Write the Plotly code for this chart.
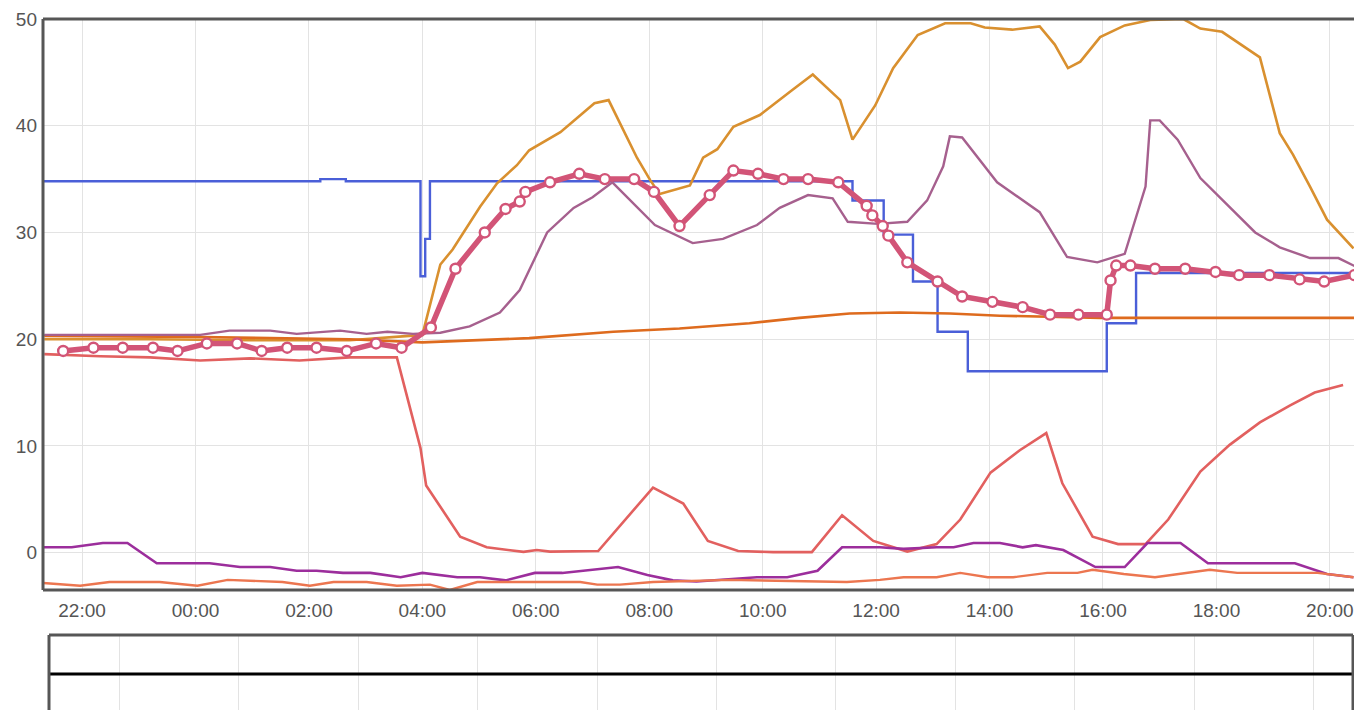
import plotly.graph_objects as go

# ---------------- data (clock times HH:MM, values) ----------------
blue_t = ["21:19", "02:12", "02:39", "03:58", "04:03", "04:08", "11:35", "12:08",
          "12:39", "13:05", "13:37", "16:04", "16:35", "20:26"]
blue_v = [34.8, 35.0, 34.8, 25.9, 29.4, 34.8, 33.0, 29.8, 25.4, 20.7, 17.0, 21.5, 26.2, 26.3]

gold_t = ["21:20", "23:12", "00:58", "02:43", "04:00", "04:19", "04:32", "05:01", "05:19",
          "05:40", "05:53", "06:26", "07:02", "07:17", "07:47", "08:01", "08:11", "08:43",
          "08:57", "09:12", "09:29", "09:57", "10:32", "10:53", "11:22", "11:35", "11:59",
          "12:18", "12:44", "13:13", "13:40", "13:55", "14:24", "14:53", "15:09", "15:23",
          "15:36", "15:57", "16:23", "16:50", "17:25", "17:43", "18:06", "18:30", "18:46",
          "19:07", "19:21", "19:39", "19:57", "20:25"]
gold_v = [20.0, 20.0, 19.9, 19.9, 20.4, 27.0, 28.4, 32.4, 34.6,
          36.3, 37.7, 39.4, 42.1, 42.4, 37.0, 34.9, 33.6, 34.4,
          37.0, 37.8, 39.9, 41.0, 43.4, 44.8, 42.4, 38.7, 41.9,
          45.4, 48.5, 49.6, 49.6, 49.2, 49.0, 49.3, 47.6, 45.4,
          46.0, 48.3, 49.4, 49.9, 50.0, 49.1, 48.8, 47.4, 46.4,
          39.3, 37.3, 34.3, 31.2, 28.5]

dorange_t = ["21:20", "00:05", "02:43", "04:00", "05:53", "07:22", "08:32", "09:46",
             "10:39", "11:32", "12:25", "13:18", "14:11", "15:04", "15:57", "20:34"]
dorange_v = [20.3, 20.2, 20.0, 19.7, 20.1, 20.7, 21.0, 21.5,
             22.0, 22.4, 22.5, 22.4, 22.2, 22.1, 22.0, 22.0]

mpurple_t = ["21:20", "22:19", "00:05", "00:36", "01:19", "01:47", "02:33", "03:01", "03:23",
             "03:50", "04:19", "04:50", "05:22", "05:43", "06:12", "06:40", "07:00", "07:21",
             "08:06", "08:46", "09:18", "09:54", "10:18", "10:48", "11:14", "11:30", "12:02",
             "12:33", "12:54", "13:11", "13:18", "13:31", "14:08", "14:53", "15:22", "15:54",
             "16:23", "16:45", "16:50", "17:00", "17:19", "17:43", "18:07", "18:41", "19:07",
             "19:39", "20:09", "20:32"]
mpurple_v = [20.4, 20.4, 20.4, 20.8, 20.8, 20.5, 20.8, 20.5, 20.7,
             20.5, 20.6, 21.2, 22.5, 24.6, 30.0, 32.3, 33.3, 34.7,
             30.7, 29.0, 29.4, 30.7, 32.3, 33.5, 33.2, 31.0, 30.8,
             31.0, 33.0, 36.2, 39.0, 38.9, 34.7, 31.9, 27.7, 27.2,
             28.0, 34.3, 40.5, 40.5, 38.7, 35.1, 33.0, 30.0, 28.6,
             27.6, 27.6, 26.6]

red_t = ["21:20", "22:19", "23:12", "00:05", "00:58", "01:50", "02:43", "03:33", "03:58",
         "04:04", "04:40", "05:08", "05:47", "06:01", "06:15", "07:06", "08:04", "08:36",
         "09:02", "09:34", "10:11", "10:52", "11:24", "11:57", "12:33", "13:04", "13:29",
         "14:01", "14:32", "15:00", "15:17", "15:49", "16:16", "16:45", "17:09", "17:43",
         "18:14", "18:46", "19:18", "19:44", "20:14"]
red_v = [18.6, 18.4, 18.3, 18.0, 18.2, 18.0, 18.3, 18.3, 9.8,
         6.3, 1.5, 0.5, 0.07, 0.25, 0.1, 0.15, 6.1, 4.6,
         1.1, 0.15, 0.05, 0.05, 3.5, 1.1, 0.1, 0.8, 3.1,
         7.5, 9.6, 11.2, 6.5, 1.5, 0.8, 0.8, 3.1, 7.6,
         10.1, 12.2, 13.8, 15.0, 15.7]

bpurple_t = ["21:19", "21:49", "22:22", "22:48", "23:19", "00:15", "00:47", "01:19", "01:47",
             "02:08", "02:36", "03:05", "03:37", "04:00", "04:37", "05:01", "05:28", "05:59",
             "06:28", "07:27", "07:58", "08:25", "08:50", "09:54", "10:26", "10:58", "11:24",
             "12:04", "12:29", "13:04", "13:22", "13:43", "14:11", "14:35", "14:49", "15:18",
             "15:52", "16:23", "16:47", "17:22", "17:51", "19:23", "19:57", "20:25"]
bpurple_v = [0.5, 0.5, 0.9, 0.9, -1.0, -1.0, -1.35, -1.35, -1.7,
             -1.7, -1.9, -1.9, -2.3, -1.9, -2.3, -2.3, -2.6, -1.9,
             -1.9, -1.35, -2.1, -2.6, -2.7, -2.3, -2.3, -1.7, 0.5,
             0.5, 0.35, 0.5, 0.5, 0.9, 0.9, 0.5, 0.7, 0.25,
             -1.35, -1.35, 0.9, 0.9, -1.0, -1.0, -2.0, -2.3]

ored_t = ["21:19", "21:58", "22:29", "23:22", "00:02", "00:34", "01:32", "02:01", "02:26",
          "03:01", "03:33", "04:08", "04:29", "04:58", "06:47", "07:05", "07:29", "08:04",
          "09:25", "11:29", "12:04", "12:29", "13:04", "13:29", "13:58", "14:25", "15:01",
          "15:33", "15:49", "16:22", "16:55", "17:53", "18:22", "19:47", "20:25"]
ored_v = [-2.85, -3.1, -2.75, -2.75, -3.1, -2.55, -2.75, -3.1, -2.75,
          -2.75, -3.1, -3.0, -3.5, -2.75, -2.75, -3.0, -3.0, -2.75,
          -2.55, -2.75, -2.55, -2.3, -2.3, -1.9, -2.3, -2.3, -1.9,
          -1.9, -1.6, -2.0, -2.3, -1.6, -1.9, -1.9, -2.3]

pink_t = ["21:40", "22:12", "22:43", "23:15", "23:41", "00:12", "00:44", "01:10", "01:37",
          "02:08", "02:40", "03:11", "03:38", "04:09", "04:35", "05:06", "05:28", "05:43",
          "05:49", "06:15", "06:46", "07:13", "07:44", "08:05", "08:32", "09:04", "09:29",
          "09:55", "10:22", "10:48", "11:20", "11:50", "11:56", "12:07", "12:13", "12:33",
          "13:05", "13:31", "14:03", "14:35", "15:04", "15:34", "16:04", "16:08", "16:14",
          "16:29", "16:55", "17:27", "17:59", "18:24", "18:56", "19:28", "19:54", "20:26"]
pink_v = [18.9, 19.2, 19.2, 19.2, 18.9, 19.6, 19.6, 18.9, 19.2,
          19.2, 18.9, 19.6, 19.2, 21.1, 26.6, 30.0, 32.2, 32.9,
          33.8, 34.7, 35.5, 35.0, 35.0, 33.8, 30.6, 33.5, 35.8,
          35.5, 35.0, 35.0, 34.7, 32.5, 31.6, 30.6, 29.7, 27.2,
          25.4, 24.0, 23.5, 23.0, 22.3, 22.3, 22.3, 25.5, 26.9,
          26.9, 26.6, 26.6, 26.3, 26.0, 26.0, 25.6, 25.4, 26.0]

y_ticks = [0, 10, 20, 30, 40, 50]

overview_x = [-0.6, 10.4]
overview_y = [0.48, 0.48]
overview_ticks = list(range(0, 11))


def to_dt(hhmm):
    h = int(hhmm.split(":")[0])
    day = "2014-11-20" if h >= 21 else "2014-11-21"
    return f"{day} {hhmm}:00"


def ts(lst):
    return [to_dt(t) for t in lst]


fig = go.Figure()

series = [
    (blue_t, blue_v, "#4a5fd8", 2.4, "hv"),
    (gold_t, gold_v, "#d9902f", 2.6, "linear"),
    (dorange_t, dorange_v, "#de6b1e", 2.6, "linear"),
    (mpurple_t, mpurple_v, "#a6608e", 2.4, "linear"),
    (red_t, red_v, "#e2605f", 2.6, "linear"),
    (bpurple_t, bpurple_v, "#9c2e9c", 2.6, "linear"),
    (ored_t, ored_v, "#ec7650", 2.4, "linear"),
]
for t, v, c, w, shape in series:
    fig.add_trace(go.Scatter(x=ts(t), y=v, mode="lines",
                             line=dict(color=c, width=w, shape=shape),
                             xaxis="x", yaxis="y", hoverinfo="skip"))

fig.add_trace(go.Scatter(x=ts(pink_t), y=pink_v, mode="lines+markers",
                         line=dict(color="#d25477", width=5.5),
                         marker=dict(size=10, color="white",
                                     line=dict(color="#d25477", width=2.4)),
                         xaxis="x", yaxis="y", hoverinfo="skip"))

fig.add_trace(go.Scatter(x=overview_x, y=overview_y, mode="lines",
                         line=dict(color="black", width=3),
                         xaxis="x2", yaxis="y2", hoverinfo="skip"))

# the page body adds an 8px offset; figure coords = page coords - 8
OFF = 8
W, H = 1362 - OFF, 710 - OFF
ml, mr, mt, mb = 43 - OFF, 0, 19 - OFF, 0
ph = H - mt - mb
pw = W - ml - mr


def py(Y):
    return (H - mb - (Y - OFF)) / ph


def px(X):
    return ((X - OFF) - ml) / pw


main_bot = py(590)
ov_top = py(635)
ov_l, ov_r = px(49), px(1353)

grid = "#e3e3e3"
tickfont = dict(family="Liberation Sans, Arial, sans-serif", size=19, color="#555555")

fig.update_layout(
    width=W, height=H,
    margin=dict(l=ml, r=mr, t=mt, b=mb, autoexpand=False),
    paper_bgcolor="white", plot_bgcolor="white",
    showlegend=False,
    xaxis=dict(domain=[0, 1], anchor="y", type="date", automargin=False,
               range=["2014-11-20 21:18:40", "2014-11-21 20:34:00"],
               tick0="2014-11-20 22:00:00", dtick=7200000, tickformat="%H:%M",
               showgrid=True, gridcolor=grid, gridwidth=1, showline=False,
               zeroline=False, ticks="", tickfont=tickfont, ticklabelstandoff=7),
    yaxis=dict(domain=[main_bot, 1], anchor="x", range=[-3.5, 50], automargin=False,
               tickvals=y_ticks, showgrid=True, gridcolor=grid, gridwidth=1,
               zeroline=False, showline=False, ticks="", tickfont=tickfont,
               ticklabelstandoff=5),
    xaxis2=dict(domain=[ov_l, ov_r], anchor="y2", range=[-0.589, 10.33], automargin=False,
                tickvals=overview_ticks, showticklabels=False, showgrid=True,
                gridcolor=grid, zeroline=False, showline=False, ticks=""),
    yaxis2=dict(domain=[0, ov_top], anchor="x2", range=[0, 1], showgrid=False, automargin=False,
                showticklabels=False, zeroline=False, showline=False, ticks=""),
)

border = dict(color="#565656", width=3)
shapes = [
    # main plot frame (left, top, bottom)
    dict(type="line", xref="paper", yref="paper", x0=0, x1=0, y0=main_bot, y1=1, line=border),
    dict(type="line", xref="paper", yref="paper", x0=0, x1=1, y0=1, y1=1, line=border),
    dict(type="line", xref="paper", yref="paper", x0=0, x1=1, y0=main_bot, y1=main_bot, line=border),
    # overview frame (top, left, right)
    dict(type="line", xref="paper", yref="paper", x0=ov_l, x1=ov_r, y0=ov_top, y1=ov_top, line=border),
    dict(type="line", xref="paper", yref="paper", x0=ov_l, x1=ov_l, y0=0, y1=ov_top, line=border),
    dict(type="line", xref="paper", yref="paper", x0=ov_r, x1=ov_r, y0=0, y1=ov_top, line=border),
]
fig.update_layout(shapes=shapes)

fig.write_html("out.html")
